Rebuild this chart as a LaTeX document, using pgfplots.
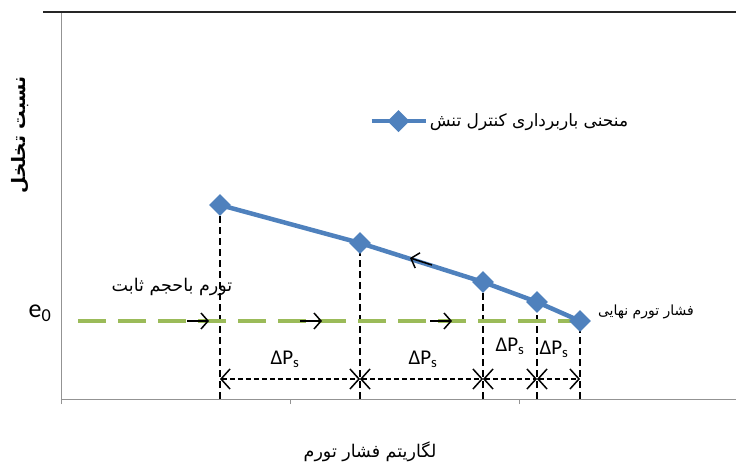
\documentclass[border=0pt]{standalone}
\usepackage{fontspec}
\setmainfont{Carlito}
\newfontfamily\arabicfont[Script=Arabic]{DejaVu Sans}
\usepackage{pgfplots}
\pgfplotsset{compat=1.18}
\usetikzlibrary{arrows.meta}
\TeXXeTstate=1
\definecolor{exblue}{HTML}{4F81BD}
\definecolor{exgreen}{HTML}{9BBB59}
\begin{document}
\begin{tikzpicture}[x=1pt,y=1pt]
\useasboundingbox (0,0) rectangle (736,463);
\begin{axis}[
  at={(61pt,64pt)}, anchor=south west,
  scale only axis, width=675pt, height=387pt,
  xmin=61, xmax=736, ymin=0, ymax=387,
  clip=false,
  axis x line*=bottom, axis y line*=left,
  axis line style={draw=gray!85, line width=0.9pt},
  xtick={61,290,519}, xticklabels={},
  ytick=\empty,
  tick align=outside, major tick length=5pt,
  tick style={gray!85, line width=0.9pt},
  legend style={draw=none, fill=none, at={(0.452,0.718)}, anchor=west,
    font=\arabicfont\fontsize{17}{19}\selectfont},
  legend image code/.code={\draw[mark repeat=2,mark phase=2,#1] plot coordinates {(0pt,0pt)(27pt,0pt)(54pt,0pt)};},
]
% vertical dashed lines
\addplot[black, line width=2.8pt, dash pattern=on 7pt off 4pt, forget plot] coordinates {(220,0)(220,194)};
\addplot[black, line width=2.8pt, dash pattern=on 7pt off 4pt, forget plot] coordinates {(360,0)(360,156)};
\addplot[black, line width=2.8pt, dash pattern=on 7pt off 4pt, forget plot] coordinates {(483,0)(483,117)};
\addplot[black, line width=2.8pt, dash pattern=on 7pt off 4pt, forget plot] coordinates {(537,0)(537,97)};
\addplot[black, line width=2.8pt, dash pattern=on 7pt off 4pt, forget plot] coordinates {(580,0)(580,78)};
% green e0 line
\addplot[exgreen, line width=3.5pt, dash pattern=on 28pt off 12pt, forget plot] coordinates {(78,78)(580,78)};
% Delta P arrows
\addplot[black, line width=1.5pt, dash pattern=on 5pt off 3pt, {Straight Barb[length=9pt,width=20pt]}-{Straight Barb[length=9pt,width=20pt]}, forget plot] coordinates {(220,20)(360,20)};
\addplot[black, line width=1.5pt, dash pattern=on 5pt off 3pt, {Straight Barb[length=9pt,width=20pt]}-{Straight Barb[length=9pt,width=20pt]}, forget plot] coordinates {(360,20)(483,20)};
\addplot[black, line width=1.5pt, dash pattern=on 5pt off 3pt, {Straight Barb[length=9pt,width=20pt]}-{Straight Barb[length=9pt,width=20pt]}, forget plot] coordinates {(483,20)(537,20)};
\addplot[black, line width=1.5pt, dash pattern=on 5pt off 3pt, {Straight Barb[length=9pt,width=20pt]}-{Straight Barb[length=9pt,width=20pt]}, forget plot] coordinates {(537,20)(580,20)};
% direction arrows
\addplot[black, line width=1.5pt, -{Straight Barb[length=7pt,width=16pt]}, forget plot] coordinates {(187,78)(209,78)};
\addplot[black, line width=1.5pt, -{Straight Barb[length=7pt,width=16pt]}, forget plot] coordinates {(300,78)(322,78)};
\addplot[black, line width=1.5pt, -{Straight Barb[length=7pt,width=16pt]}, forget plot] coordinates {(430,78)(452,78)};
% unloading curve
\addplot[exblue, line width=4.5pt, mark=square*, mark size=5.5pt, mark options={solid, rotate=45, fill=exblue}] coordinates {(220,194)(360,156)(483,117)(537,97)(580,78)};
\addlegendentry{\beginR منحنی باربرداری کنترل تنش\endR}
\addplot[black, line width=1.5pt, -{Straight Barb[length=7pt,width=16pt]}, forget plot] coordinates {(432,134)(410,141)};
% texts
\node[font=\fontsize{26}{28}\selectfont] at (axis cs:40,86) {e\textsubscript{0}};
\node[font=\fontsize{21}{23}\selectfont] at (axis cs:285,40) {ΔP\textsubscript{s}};
\node[font=\fontsize{21}{23}\selectfont] at (axis cs:423,40) {ΔP\textsubscript{s}};
\node[font=\fontsize{21}{23}\selectfont] at (axis cs:510,53) {ΔP\textsubscript{s}};
\node[font=\fontsize{21}{23}\selectfont] at (axis cs:554,50) {ΔP\textsubscript{s}};
\node[font=\arabicfont\fontsize{17.5}{19}\selectfont] at (axis cs:172,112) {\beginR تورم باحجم ثابت\endR};
\node[font=\arabicfont\fontsize{14}{16}\selectfont] at (axis cs:646,87) {\beginR فشار تورم نهایی\endR};
\node[font=\arabicfont\fontsize{17.5}{19}\selectfont] at (axis cs:370,-53) {\beginR لگاریتم فشار تورم\endR};
\node[font=\arabicfont\bfseries\fontsize{18.5}{20}\selectfont, rotate=90] at (axis cs:20,264) {\beginR نسبت تخلخل\endR};
\end{axis}
\draw[black!85, line width=1.8pt] (43,451) -- (736,451);
\end{tikzpicture}
\end{document}
